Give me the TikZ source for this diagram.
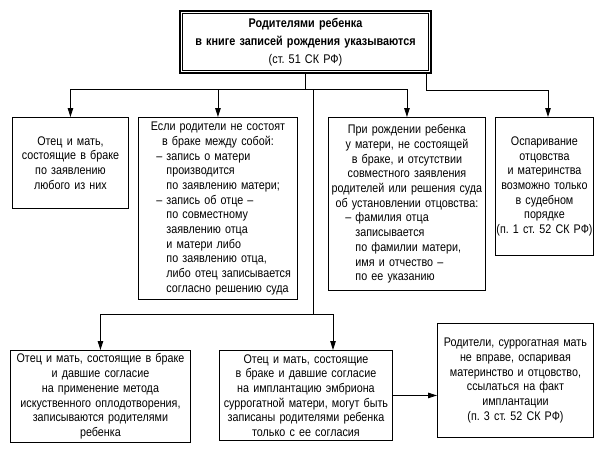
\documentclass[tikz,border=0pt]{standalone}
\usepackage{fontspec}
\setmainfont[FakeStretch=0.86]{Liberation Sans}
\usetikzlibrary{arrows.meta}
\setlength{\parindent}{0pt}
\frenchspacing
\newcommand{\dashitem}{\leavevmode\llap{– }}

\tikzset{
  box/.style={draw, line width=0.9pt, anchor=north west, inner sep=2pt, align=center,
    font=\fontsize{12.5}{14.7}\selectfont},
  conn/.style={line width=0.9pt},
  arr/.style={conn, -{Triangle[length=9pt,width=5.5pt]}},
}

\begin{document}
\begin{tikzpicture}[x=1pt, y=-1pt]
  \useasboundingbox (0,0) rectangle (601,448);

  % Title
  \node[box, line width=2pt, minimum width=251pt, minimum height=62pt, text width=240pt,
    font=\fontsize{12.6}{18}\selectfont] (title) at (179,10)
    {\textbf{Родителями ребенка}\\ \textbf{в книге записей рождения указываются}\\ (ст. 51 СК РФ)};
  \draw[thin] ([shift={(3.5pt,-3.5pt)}]title.north west) rectangle ([shift={(-3.5pt,3.5pt)}]title.south east);

  % Top row
  \node[box, minimum width=116pt, minimum height=91pt, text width=112pt] (married) at (12,117)
    {Отец и мать,\\ состоящие в браке\\ по заявлению\\ любого из них};
  \node[box, minimum width=159pt, minimum height=182pt, text width=155pt, align=left] (single) at (138,117)
    {\centering Если родители не состоят\\ в браке между собой:\par
     \raggedright\leftskip=26pt
     \dashitem запись о матери\\ производится\\ по заявлению матери;\\
     \dashitem запись об отце –\\ по совместному\\ заявлению отца\\ и матери либо\\
     по заявлению отца,\\ либо отец записывается\\ согласно решению суда\par};
  \node[box, minimum width=157pt, minimum height=173pt, text width=153pt, align=left] (unmarried) at (328,117)
    {\centering При рождении ребенка\\ у матери, не состоящей\\ в браке, и отсутствии\\
     совместного заявления\\ родителей или решения суда\\ об установлении отцовства:\par
     \raggedright\leftskip=25pt
     \dashitem фамилия отца\\ записывается\\ по фамилии матери,\\ имя и отчество –\\ по ее указанию\par};
  \node[box, minimum width=98pt, minimum height=138pt, text width=97pt, inner sep=0pt] (contest) at (495,117)
    {Оспаривание\\ отцовства\\ и материнства\\ возможно только\\ в судебном\\ порядке\\ (п. 1 ст. 52 СК РФ)};

  % Bottom row
  \node[box, minimum width=180pt, minimum height=92pt, text width=176pt] (ivf) at (10,350)
    {Отец и мать, состоящие в браке\\ и давшие согласие\\ на применение метода\\
     искуственного оплодотворения,\\ записываются родителями\\ ребенка};
  \node[box, minimum width=173pt, minimum height=90pt, text width=169pt] (surr) at (219,350)
    {Отец и мать, состоящие\\ в браке и давшие согласие\\ на имплантацию эмбриона\\
     суррогатной матери, могут быть\\ записаны родителями ребенка\\ только с ее согласия};
  \node[box, minimum width=156pt, minimum height=114pt, text width=152pt] (noright) at (437,323)
    {Родители, суррогатная мать\\ не вправе, оспаривая\\ материнство и отцовство,\\
     ссылаться на факт\\ имплантации\\ (п. 3 ст. 52 СК РФ)};

  % Connectors
  \coordinate (bus) at (0,89);
  \coordinate (trunk) at (313,89);
  \coordinate (split) at (313,314);
  \coordinate (surrtop) at (333,350);
  \coordinate (contesttop) at (548,117);
  \draw[conn] (title.south) -- (title.south |- bus);
  \draw[arr] (title.south |- bus) -| (married.north);
  \draw[arr] (title.south |- bus) -| (single.north);
  \draw[arr] (title.south |- bus) -| (unmarried.north);
  \draw[arr] ([xshift=-6pt]title.south east) |- ([yshift=-1pt]bus -| contesttop) -- (contesttop);
  \draw[conn] (trunk) -- (split);
  \draw[arr] (split) -| (ivf.north);
  \draw[arr] (split) -| (surrtop);
  \draw[arr] (surr.east) -- (noright.west |- surr.east);
\end{tikzpicture}
\end{document}
